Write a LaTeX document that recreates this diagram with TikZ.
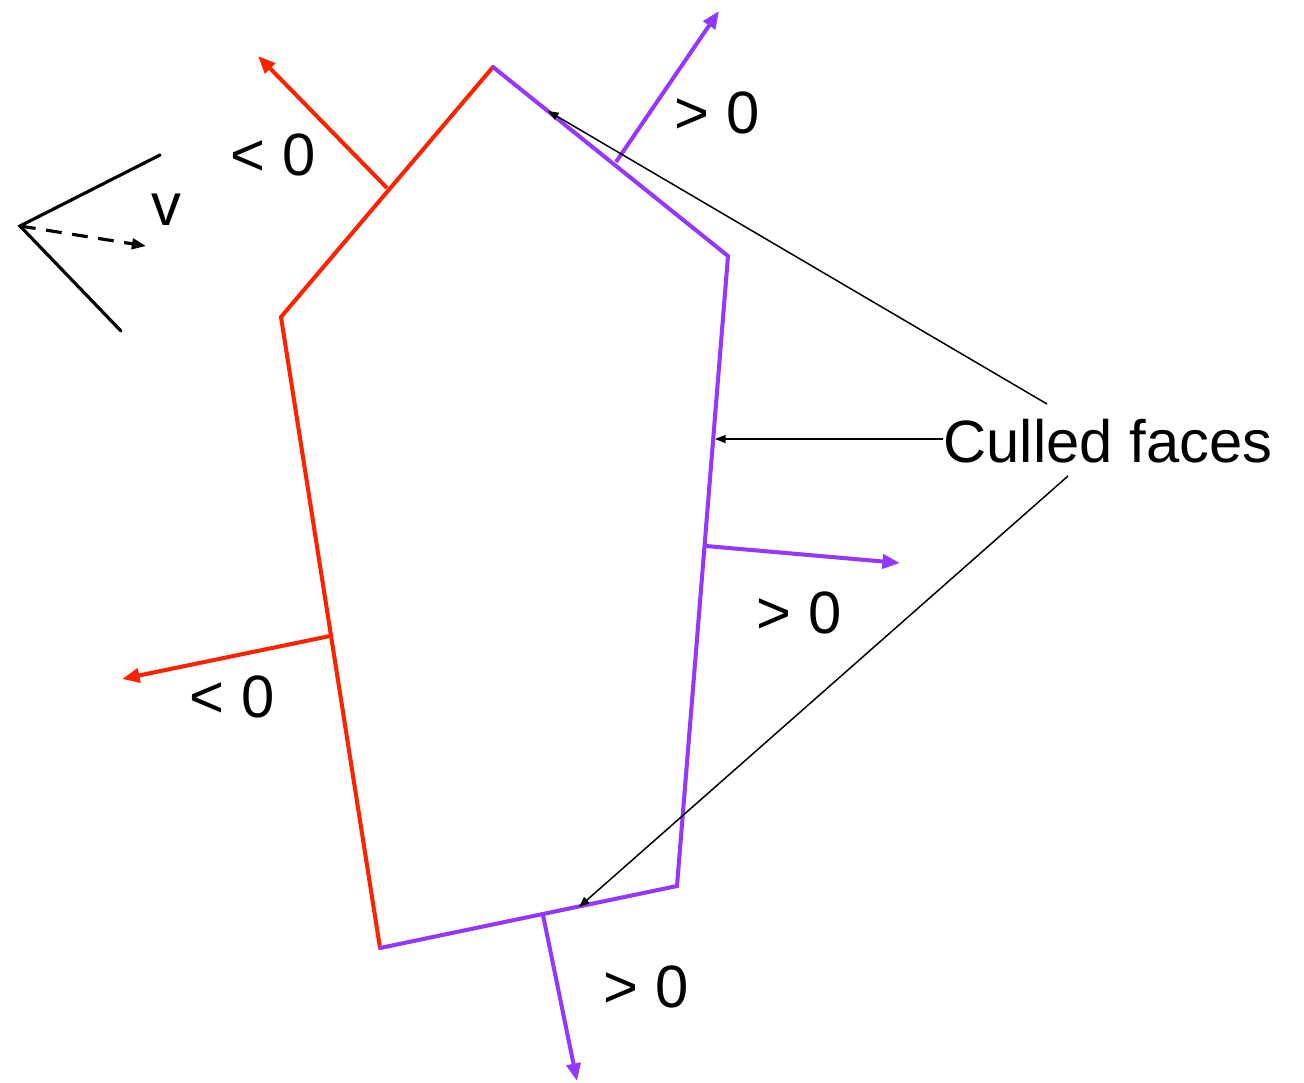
\documentclass[tikz,border=0pt]{standalone}
\usepackage{fontspec}
\setmainfont{Liberation Sans}
\usetikzlibrary{arrows.meta}
\definecolor{cullred}{RGB}{255,34,0}
\definecolor{cullpurple}{RGB}{148,55,255}
\tikzset{
  redface/.style={draw=cullred, line width=2.3pt, line cap=round, line join=miter},
  purpleface/.style={draw=cullpurple, line width=2.3pt, line cap=round, line join=miter},
  rednormal/.style={draw=cullred, line width=2.3pt, -{Triangle[length=10pt,width=8pt]}},
  purplenormal/.style={draw=cullpurple, line width=2.3pt, -{Triangle[length=10pt,width=8pt]}},
  leader/.style={draw=black, line width=0.85pt, -{Triangle[length=6pt,width=4.5pt]}},
  frustum/.style={draw=black, line width=1.8pt, line cap=round},
  lbl/.style={inner sep=0pt, font=\fontsize{34}{40}\selectfont},
}
\begin{document}
\begin{tikzpicture}[x=0.02cm, y=-0.02cm]
\useasboundingbox (0,0) rectangle (1304,1082);
% polygon vertices
\coordinate (top) at (493,67);
\coordinate (ur) at (728,256);
\coordinate (lr) at (677,886);
\coordinate (bot) at (380,948);
\coordinate (lft) at (281,317);
% faces
\draw[redface] (top) -- (lft) -- (bot);
\draw[purpleface] (top) -- (ur) -- (lr) -- (bot);
% normals
\coordinate (n1s) at (387,188); \coordinate (n1e) at (258,56);
\coordinate (n2s) at (616,162); \coordinate (n2e) at (719,11);
\coordinate (n3s) at (706,546); \coordinate (n3e) at (900,563);
\coordinate (n4s) at (330,636); \coordinate (n4e) at (122,679);
\coordinate (n5s) at (543,915); \coordinate (n5e) at (577,1081);
\draw[rednormal] (n1s) -- (n1e);
\draw[purplenormal] (n2s) -- (n2e);
\draw[purplenormal] (n3s) -- (n3e);
\draw[rednormal] (n4s) -- (n4e);
\draw[purplenormal] (n5s) -- (n5e);
% labels
\node[lbl] (l1) at (273,155) {< 0};
\node[lbl] (l2) at (717,113) {> 0};
\node[lbl] (l3) at (799,613) {> 0};
\node[lbl] (l4) at (232,697) {< 0};
\node[lbl] (l5) at (646,987) {> 0};
% view frustum
\coordinate (eye) at (20,226);
\coordinate (f1) at (160,155);
\coordinate (f2) at (121,331);
\coordinate (vdir) at (146,246);
\draw[frustum] (f1) -- (eye) -- (f2);
\draw[line width=1.8pt, dashed, dash pattern=on 9pt off 6pt, -{Triangle[length=8pt,width=6pt]}] (eye) -- (vdir);
\node[lbl] (v) at (166,210) {v};
% culled faces
\node[lbl] (cf) at (1108,441) {Culled faces};
\coordinate (c1) at (1047,404);
\coordinate (c2) at (943,439);
\coordinate (c3) at (1068,476);
\coordinate (t1) at (548,111);
\coordinate (t2) at (715,439);
\coordinate (t3) at (579,907);
\draw[leader] (c1) -- (t1);
\draw[leader] (c2) -- (t2);
\draw[leader] (c3) -- (t3);
\end{tikzpicture}
\end{document}
